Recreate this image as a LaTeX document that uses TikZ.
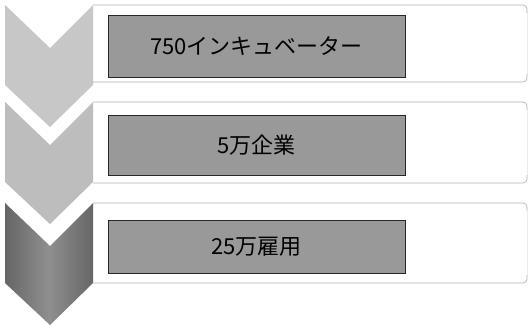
\documentclass[tikz,border=0pt]{standalone}
\usepackage{fontspec}
\newfontfamily\jp{Noto Sans CJK JP}
\begin{document}
\begin{tikzpicture}[x=1pt,y=-1pt,
  outerline/.style={draw=gray!60,line width=0.7pt,rounded corners=4pt},
  innerbox/.style={draw=black!85,line width=1pt,fill=black!40,inner sep=0pt,
    minimum width=297pt,font=\jp\fontsize{22}{22}\selectfont,text=black},
  chev/.style={draw=none}]
\useasboundingbox (0,0) rectangle (529,324);
\fill[white] (0,0) rectangle (529,324);
% outer boxes (top and bottom edges, right side faint)
\newcommand{\boxlines}[2]{%
  \draw[outerline] (93,#1) -- (527,#1) -- (527,#1+8);
  \draw[outerline] (93,#2) -- (527,#2) -- (527,#2-8);
  \draw[draw=gray!15,line width=0.5pt] (527,#1+8) -- (527,#2-8);}
\boxlines{5}{82}
\boxlines{102}{183}
\boxlines{203}{283}
% chevrons
\newcommand{\chevpath}[1]{(5,#1) -- (50,#1+43) -- (93,#1) -- (93,#1+80) -- (50,#1+122) -- (5,#1+80) -- cycle}
\fill[chev,black!22] \chevpath{5};
\fill[chev,black!26] \chevpath{102};
\shade[chev,left color=black!60,right color=black!60,middle color=black!44] \chevpath{203};
% inner boxes
\node[innerbox,minimum height=62pt] (a) at (256.5,46) {750インキュベーター};
\node[innerbox,minimum height=60pt] (b) at (256.5,145) {5万企業};
\node[innerbox,minimum height=53pt] (c) at (256.5,246.5) {25万雇用};
\end{tikzpicture}
\end{document}
